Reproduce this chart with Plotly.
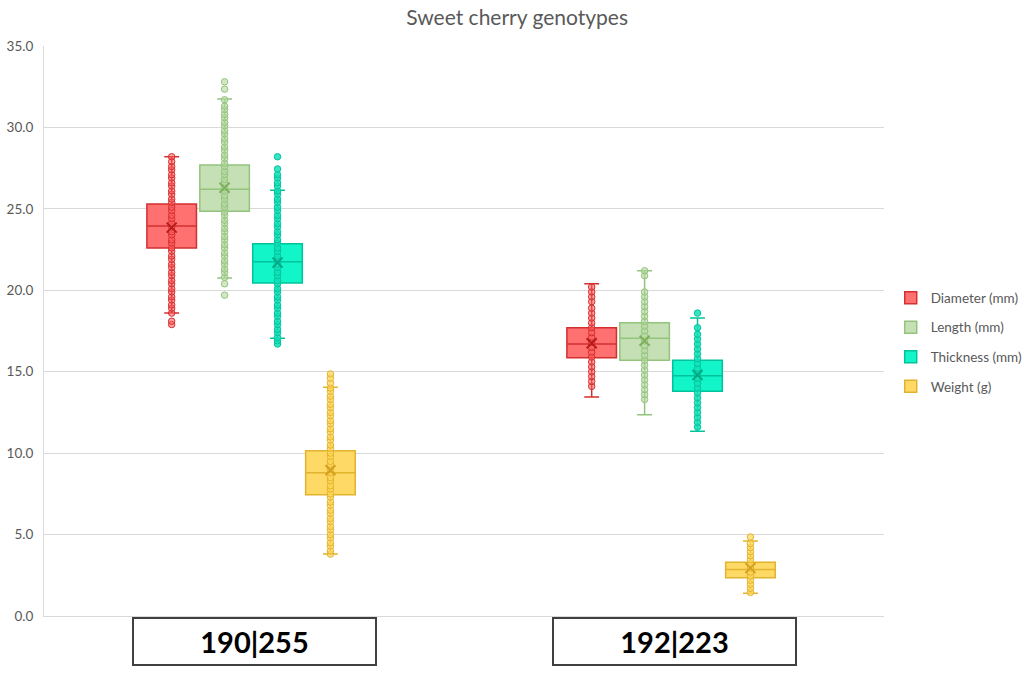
import plotly.graph_objects as go

# ---------------- data ----------------
genotypes = ["190|255", "192|223"]
traits = ["Diameter (mm)", "Length (mm)", "Thickness (mm)", "Weight (g)"]

q1_diam = [22.6, 15.85]
med_diam = [23.95, 16.7]
q3_diam = [25.3, 17.7]
lo_diam = [18.6, 13.45]
hi_diam = [28.2, 20.4]
mean_diam = [23.85, 16.75]

q1_len = [24.85, 15.7]
med_len = [26.2, 17.05]
q3_len = [27.7, 18.0]
lo_len = [20.75, 12.35]
hi_len = [31.75, 21.2]
mean_len = [26.3, 16.9]

q1_thick = [20.45, 13.8]
med_thick = [21.75, 14.75]
q3_thick = [22.85, 15.7]
lo_thick = [17.05, 11.35]
hi_thick = [26.15, 18.3]
mean_thick = [21.7, 14.8]

q1_wt = [7.45, 2.35]
med_wt = [8.8, 2.85]
q3_wt = [10.15, 3.3]
lo_wt = [3.8, 1.4]
hi_wt = [14.05, 4.6]
mean_wt = [8.95, 2.95]

diam_190 = [17.9, 18.1, 18.6, 18.9, 19.1, 19.4, 19.6, 19.9, 20.1, 20.4, 20.6, 20.9, 21.1, 21.4,
            21.6, 21.9, 22.1, 22.4, 22.6, 22.9, 23.1, 23.4, 23.6, 23.9, 24.1, 24.4, 24.6, 24.9,
            25.1, 25.4, 25.6, 25.9, 26.1, 26.4, 26.6, 26.9, 27.1, 27.4, 27.6, 27.9, 28.2]
len_190 = [19.7, 20.4, 20.8, 21.1, 21.3, 21.6, 21.8, 22.1, 22.3, 22.6, 22.8, 23.1, 23.3, 23.6,
           23.8, 24.1, 24.3, 24.6, 24.8, 25.1, 25.3, 25.6, 25.8, 26.1, 26.3, 26.6, 26.8, 27.1,
           27.3, 27.6, 27.8, 28.1, 28.3, 28.6, 28.8, 29.1, 29.3, 29.6, 29.8, 30.1, 30.3, 30.6,
           30.8, 31.1, 31.3, 31.7, 32.35, 32.8]
thick_190 = [16.7, 16.9, 17.1, 17.4, 17.6, 17.9, 18.1, 18.4, 18.6, 18.9, 19.1, 19.4, 19.6, 19.9,
             20.1, 20.4, 20.6, 20.9, 21.1, 21.4, 21.6, 21.9, 22.1, 22.4, 22.6, 22.9, 23.1, 23.4,
             23.6, 23.9, 24.1, 24.4, 24.6, 24.9, 25.1, 25.4, 25.6, 25.9, 26.1, 26.4, 26.6, 26.9,
             27.1, 27.45, 28.2]
wt_190 = [3.8, 4.0, 4.3, 4.5, 4.8, 5.0, 5.3, 5.5, 5.8, 6.0, 6.3, 6.5, 6.8, 7.0, 7.3, 7.5, 7.8,
          8.0, 8.3, 8.5, 8.8, 9.0, 9.3, 9.5, 9.8, 10.0, 10.3, 10.5, 10.8, 11.0, 11.3, 11.5, 11.8,
          12.0, 12.3, 12.5, 12.8, 13.0, 13.3, 13.5, 13.8, 14.0, 14.3, 14.6, 14.86]

diam_192 = [14.1, 14.4, 14.7, 15.0, 15.3, 15.6, 15.9, 16.2, 16.5, 16.8, 17.1, 17.4, 17.7, 18.0,
            18.3, 18.6, 18.9, 19.3, 19.6, 19.9, 20.2]
len_192 = [13.3, 13.6, 13.9, 14.2, 14.5, 14.8, 15.1, 15.4, 15.7, 16.0, 16.3, 16.6, 16.9, 17.2,
           17.5, 17.8, 18.1, 18.4, 18.7, 19.0, 19.3, 19.6, 19.9, 20.9, 21.2]
thick_192 = [11.6, 11.9, 12.2, 12.5, 12.8, 13.1, 13.4, 13.7, 14.0, 14.3, 14.6, 14.9, 15.2, 15.5,
             15.8, 16.1, 16.4, 16.7, 17.0, 17.3, 17.7, 18.6]
wt_192 = [1.45, 1.7, 1.95, 2.2, 2.45, 2.7, 2.95, 3.2, 3.45, 3.7, 3.95, 4.2, 4.45, 4.85]

y_ticks = [0, 5, 10, 15, 20, 25, 30, 35]

# ---------------- styling ----------------
stats = [
    (q1_diam, med_diam, q3_diam, lo_diam, hi_diam, mean_diam, [diam_190, diam_192]),
    (q1_len, med_len, q3_len, lo_len, hi_len, mean_len, [len_190, len_192]),
    (q1_thick, med_thick, q3_thick, lo_thick, hi_thick, mean_thick, [thick_190, thick_192]),
    (q1_wt, med_wt, q3_wt, lo_wt, hi_wt, mean_wt, [wt_190, wt_192]),
]
fills = ["#FF7070", "#C5E0B4", "#12F5C8", "#FFD966"]
lines = ["#D32F2F", "#93C47D", "#00C39C", "#E2B32C"]
pt_fill = ["rgba(255,90,90,0.55)", "rgba(180,215,160,0.6)", "rgba(20,225,185,0.85)", "rgba(255,215,90,0.7)"]
mean_col = ["#B71C1C", "#7FB05E", "#00A884", "#D4A020"]

FONT = "Lato, Carlito, Calibri, sans-serif"
step = 0.126
bw = 0.118
shift = -0.007

fig = go.Figure()
for ti, name in enumerate(traits):
    q1, med, q3, lo, hi, mn, pts = stats[ti]
    pos = [g + shift + (ti - 1.5) * step for g in range(len(genotypes))]
    fig.add_trace(go.Box(
        x=pos, q1=q1, median=med, q3=q3, lowerfence=lo, upperfence=hi,
        name=name, legendgroup=name, width=bw, whiskerwidth=0.3,
        fillcolor=fills[ti], line=dict(color=lines[ti], width=1.5),
        boxpoints=False, hoverinfo="skip",
    ))
    px, py = [], []
    for gi, arr in enumerate(pts):
        px += [pos[gi]] * len(arr)
        py += arr
    fig.add_trace(go.Scatter(
        x=px, y=py, mode="markers", legendgroup=name, showlegend=False,
        marker=dict(symbol="circle", size=6.5, color=pt_fill[ti],
                    line=dict(color=lines[ti], width=1)),
        hoverinfo="skip",
    ))
    fig.add_trace(go.Scatter(
        x=pos, y=mn, mode="markers", legendgroup=name, showlegend=False,
        marker=dict(symbol="x-thin", size=10, line=dict(color=mean_col[ti], width=2)),
        hoverinfo="skip",
    ))

for gi, g in enumerate(genotypes):
    fig.add_annotation(
        x=gi, y=-0.044, xref="x", yref="paper", xanchor="center", yanchor="middle",
        text="<b>%s</b>" % g, showarrow=False, width=241, height=45,
        bordercolor="#404040", borderwidth=2, borderpad=0, bgcolor="white",
        font=dict(size=29, color="black", family=FONT),
    )

fig.update_layout(
    width=1024, height=676,
    margin=dict(l=44, r=140, t=46, b=60, autoexpand=False),
    paper_bgcolor="white", plot_bgcolor="white",
    font=dict(family=FONT, color="#595959", size=14),
    title=dict(text="Sweet cherry genotypes", x=0.505, xanchor="center",
               y=1 - 18 / 676, yanchor="middle",
               font=dict(size=21, color="#595959")),
    xaxis=dict(range=[-0.5, 1.5], showticklabels=False, showgrid=False, zeroline=False,
               showline=True, linecolor="#D9D9D9", linewidth=1, ticks="", automargin=False),
    yaxis=dict(range=[0, 35], tickvals=y_ticks, tickformat=".1f", showgrid=True,
               gridcolor="#D9D9D9", gridwidth=1, zeroline=False, showline=True,
               linecolor="#D9D9D9", ticks="", ticklabelstandoff=7, automargin=False,
               tickfont=dict(size=13.5, color="#595959")),
    legend=dict(x=1.008, xanchor="left", y=0.48, yanchor="middle", tracegroupgap=9,
                itemwidth=30, font=dict(size=13.5, color="#595959"), bgcolor="rgba(0,0,0,0)"),
    showlegend=True,
)

fig.write_html("out.html", config={"displayModeBar": False},
               post_script="document.body.style.margin='0px';")
